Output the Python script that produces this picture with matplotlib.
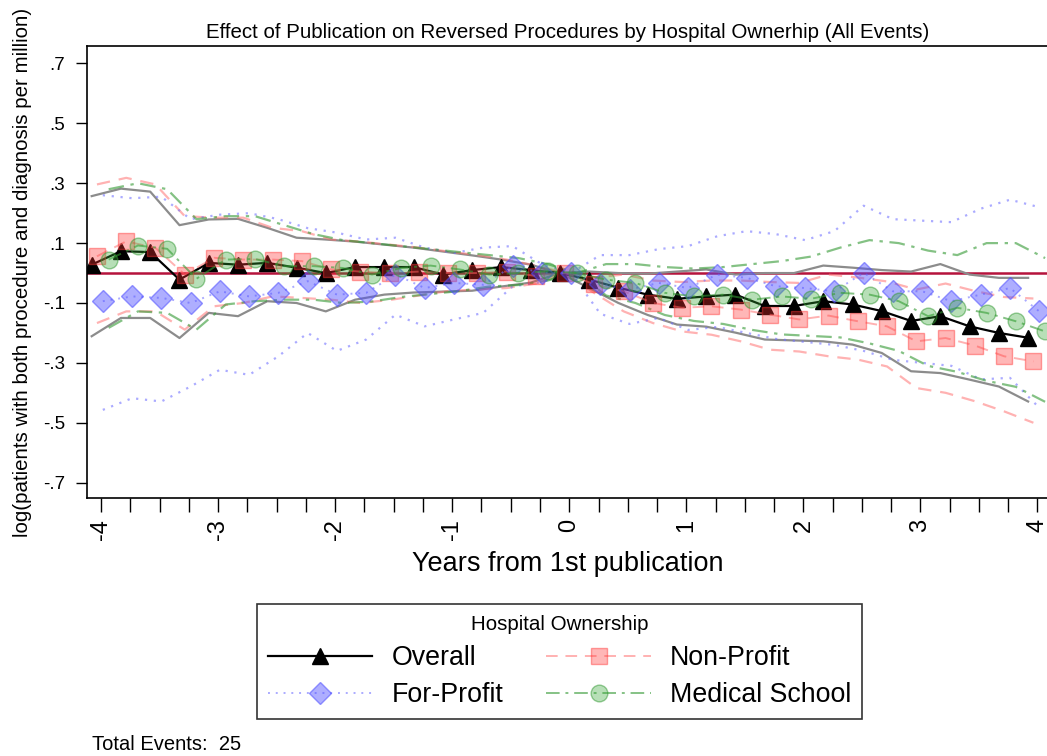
import numpy as np
import matplotlib
matplotlib.use("Agg")
import matplotlib.pyplot as plt
from matplotlib.ticker import FixedLocator, FixedFormatter

plt.rcParams['font.family'] = ['Liberation Sans', 'DejaVu Sans']

# quarters relative to first publication
years = np.arange(-4, 4.01, 0.25)

overall = [0.028, 0.073, 0.07, -0.022, 0.034, 0.028, 0.034, 0.018, 0.0,
           0.02, 0.02, 0.02, -0.005, 0.01, 0.02, 0.01, 0.0,
           -0.022, -0.049, -0.072, -0.086, -0.078, -0.072, -0.11, -0.11,
           -0.094, -0.105, -0.127, -0.16, -0.144, -0.178, -0.2, -0.216]
overall_hi = [0.257, 0.282, 0.272, 0.16, 0.179, 0.181, 0.151, 0.118, 0.112,
              0.105, 0.095, 0.085, 0.072, 0.059, 0.045, 0.028, 0.0,
              0.005, 0.0, -0.002, 0.005, 0.012, -0.005, 0.0, 0.0,
              0.025, 0.018, 0.01, 0.005, 0.03, -0.005, -0.016, -0.016]
overall_lo = [-0.211, -0.15, -0.15, -0.217, -0.133, -0.144, -0.094, -0.1, -0.128,
              -0.089, -0.072, -0.065, -0.062, -0.059, -0.045, -0.032, 0.0,
              -0.05, -0.1, -0.14, -0.172, -0.179, -0.199, -0.222, -0.225,
              -0.228, -0.239, -0.267, -0.328, -0.334, -0.356, -0.379, -0.429]

nonprofit = [0.056, 0.106, 0.084, -0.005, 0.051, 0.045, 0.045, 0.04, 0.012,
             0.005, 0.0, 0.005, 0.0, 0.0, 0.005, -0.01, 0.0,
             -0.038, -0.061, -0.1, -0.116, -0.111, -0.122, -0.139, -0.155,
             -0.142, -0.161, -0.178, -0.228, -0.217, -0.242, -0.278, -0.295]
nonprofit_hi = [0.296, 0.318, 0.296, 0.19, 0.185, 0.185, 0.151, 0.14, 0.112,
                0.105, 0.095, 0.085, 0.072, 0.06, 0.045, 0.025, 0.0,
                -0.015, -0.005, -0.025, -0.03, -0.025, -0.025, -0.03, -0.033,
                -0.005, -0.015, -0.028, -0.055, -0.035, -0.06, -0.08, -0.085]
nonprofit_lo = [-0.167, -0.128, -0.128, -0.189, -0.111, -0.1, -0.078, -0.083, -0.089,
                -0.1, -0.09, -0.075, -0.06, -0.055, -0.05, -0.035, 0.0,
                -0.067, -0.128, -0.167, -0.195, -0.206, -0.228, -0.256, -0.262,
                -0.278, -0.289, -0.312, -0.384, -0.4, -0.428, -0.462, -0.5]

forprofit = [-0.094, -0.078, -0.083, -0.1, -0.061, -0.078, -0.066, -0.027, -0.072,
             -0.066, -0.005, -0.05, -0.033, -0.039, 0.023, 0.001, 0.0,
             -0.038, -0.055, -0.033, -0.05, -0.005, -0.016, -0.044, -0.05,
             -0.061, 0.001, -0.061, -0.061, -0.094, -0.072, -0.05, -0.128]
forprofit_hi = [0.26, 0.25, 0.255, 0.18, 0.195, 0.2, 0.18, 0.15, 0.135,
                0.112, 0.118, 0.085, 0.067, 0.085, 0.09, 0.03, 0.0,
                0.06, 0.06, 0.08, 0.09, 0.123, 0.14, 0.13, 0.11,
                0.14, 0.225, 0.18, 0.175, 0.17, 0.215, 0.245, 0.22]
forprofit_lo = [-0.457, -0.418, -0.429, -0.379, -0.323, -0.34, -0.278, -0.2, -0.26,
                -0.222, -0.139, -0.178, -0.155, -0.133, -0.045, -0.03, 0.0,
                -0.136, -0.17, -0.15, -0.19, -0.18, -0.2, -0.22, -0.23,
                -0.24, -0.26, -0.29, -0.3, -0.31, -0.355, -0.35, -0.45]

medschool = [0.045, 0.092, 0.081, -0.019, 0.045, 0.047, 0.023, 0.023, 0.017,
             -0.005, 0.017, 0.025, 0.012, -0.005, 0.0, 0.006, 0.0,
             -0.022, -0.033, -0.066, -0.078, -0.072, -0.089, -0.078, -0.086,
             -0.066, -0.072, -0.094, -0.144, -0.116, -0.133, -0.161, -0.195]
medschool_hi = [0.28, 0.3, 0.28, 0.18, 0.19, 0.19, 0.16, 0.13, 0.11,
                0.1, 0.09, 0.08, 0.07, 0.06, 0.05, 0.03, 0.0,
                0.03, 0.03, 0.02, 0.015, 0.02, 0.03, 0.04, 0.055,
                0.085, 0.11, 0.1, 0.075, 0.06, 0.1, 0.1, 0.05]
medschool_lo = [-0.183, -0.128, -0.133, -0.189, -0.105, -0.094, -0.089, -0.089, -0.1,
                -0.095, -0.08, -0.07, -0.06, -0.045, -0.04, -0.025, 0.0,
                -0.075, -0.1, -0.14, -0.16, -0.17, -0.19, -0.205, -0.21,
                -0.215, -0.235, -0.26, -0.31, -0.33, -0.36, -0.38, -0.43]

total_events = 25

fig = plt.figure(figsize=(10.47, 7.56), dpi=100)
ax = fig.add_axes([0.0831, 0.341, 0.919, 0.598])

# small horizontal shift per group so markers don't sit on top of each other
x_all = years - 0.08
x_np = years - 0.035
x_fp = years + 0.015
x_ms = years + 0.065

gray = '#8c8c8c'
pink = (1.0, 0.45, 0.45, 0.55)
blue = (0.45, 0.45, 1.0, 0.6)
green = (0.2, 0.6, 0.2, 0.6)

# confidence bands
ax.plot(x_all, overall_hi, color=gray, lw=1.6)
ax.plot(x_all, overall_lo, color=gray, lw=1.6)
ax.plot(x_np, nonprofit_hi, color=pink, lw=1.6, ls=(0, (6, 4)))
ax.plot(x_np, nonprofit_lo, color=pink, lw=1.6, ls=(0, (6, 4)))
ax.plot(x_fp, forprofit_hi, color=blue, lw=1.6, ls=(0, (1, 3)))
ax.plot(x_fp, forprofit_lo, color=blue, lw=1.6, ls=(0, (1, 3)))
ax.plot(x_ms, medschool_hi, color=green, lw=1.6, ls=(0, (7, 3, 1.5, 3)))
ax.plot(x_ms, medschool_lo, color=green, lw=1.6, ls=(0, (7, 3, 1.5, 3)))

ax.axhline(0, color='#b5133c', lw=1.8, zorder=1.5)

h_all, = ax.plot(x_all, overall, color='black', lw=1.6, marker='^', ms=11.5,
                 mfc='black', mec='black', label='Overall')
h_np, = ax.plot(x_np, nonprofit, color=pink, lw=1.4, ls=(0, (6, 4)), marker='s',
                ms=12, mfc=(1, 0.2, 0.2, 0.35), mec=(1, 0.2, 0.2, 0.45), label='Non-Profit')
h_fp, = ax.plot(x_fp, forprofit, color=blue, lw=1.4, ls=(0, (1, 3)), marker='D',
                ms=11, mfc=(0.3, 0.3, 1, 0.45), mec=(0.3, 0.3, 1, 0.55), label='For-Profit')
h_ms, = ax.plot(x_ms, medschool, color=green, lw=1.4, ls=(0, (7, 3, 1.5, 3)), marker='o',
                ms=12, mfc=(0.2, 0.65, 0.2, 0.35), mec=(0.2, 0.6, 0.2, 0.5), label='Medical School')

ax.set_xlim(-4.12, 4.1)
ax.set_ylim(-0.752, 0.758)

yt = [0.7, 0.5, 0.3, 0.1, -0.1, -0.3, -0.5, -0.7]
ax.yaxis.set_major_locator(FixedLocator(yt))
ax.yaxis.set_major_formatter(FixedFormatter(['.7', '.5', '.3', '.1', '-.1', '-.3', '-.5', '-.7']))
ax.set_xticks(np.arange(-4, 5, 1))
ax.set_xticklabels(['-4', '-3', '-2', '-1', '0', '1', '2', '3', '4'], rotation=90, fontsize=17)
ax.set_xticks(np.arange(-4, 4.01, 0.25), minor=True)
ax.tick_params(axis='y', labelsize=13.5, length=8, width=1, pad=8, direction='out')
ax.tick_params(axis='x', which='both', length=10, width=1, pad=5, direction='out')

for s in ax.spines.values():
    s.set_linewidth(1.2)

ax.set_title('Effect of Publication on Reversed Procedures by Hospital Ownerhip (All Events)',
             fontsize=14.8, pad=6)
ax.set_ylabel('log(patients with both procedure and diagnosis per million)', fontsize=14.8, labelpad=8)
ax.set_xlabel('Years from 1st publication', fontsize=19.5, labelpad=8)

leg = fig.legend(handles=[h_all, h_fp, h_np, h_ms], ncol=2, loc='center',
                 bbox_to_anchor=(0.5345, 0.125), fontsize=19.3, title='Hospital Ownership',
                 title_fontsize=14.8, handlelength=3.9, handletextpad=0.72,
                 columnspacing=1.6, labelspacing=0.42, numpoints=1, fancybox=False,
                 edgecolor='black', borderpad=0.4)
leg.get_frame().set_linewidth(1.2)

fig.text(0.088, 0.008, 'Total Events:  %d' % total_events, fontsize=14.5)

fig.savefig('out.png', dpi=100)
